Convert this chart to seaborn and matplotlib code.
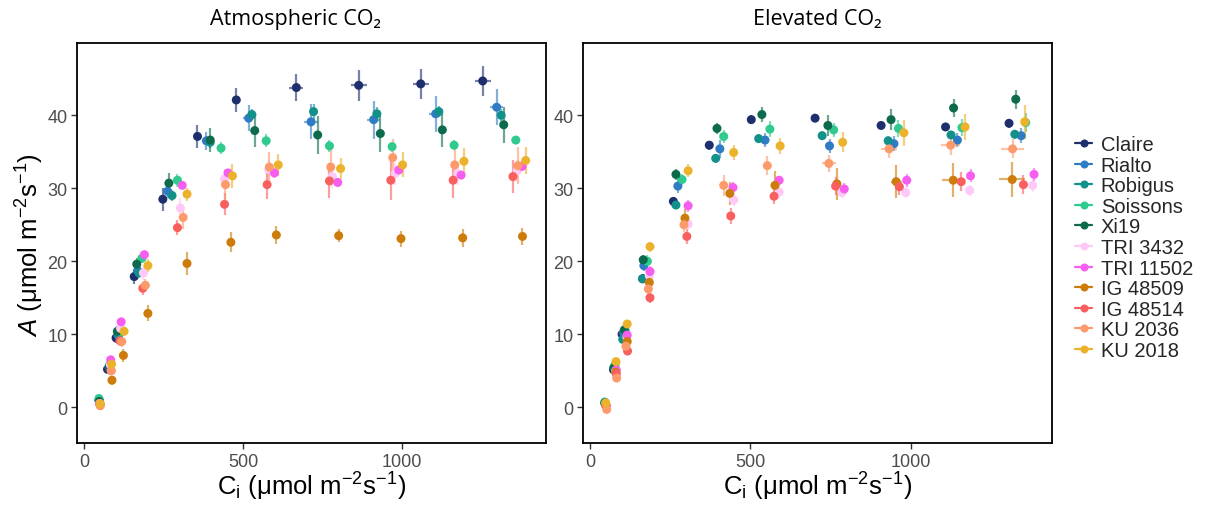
import numpy as np
import pandas as pd
import matplotlib
matplotlib.use("Agg")
import matplotlib.pyplot as plt
from matplotlib.lines import Line2D
import seaborn as sns

GENOTYPES = ["Claire", "Rialto", "Robigus", "Soissons", "Xi19", "TRI 3432",
             "TRI 11502", "IG 48509", "IG 48514", "KU 2036", "KU 2018"]
COLORS = ["#1E2F6E", "#2F7CC4", "#12918A", "#2FCB8E", "#0D6A4C", "#FFC9F7",
          "#F65EF0", "#CD7C0C", "#F8605F", "#FD9A6C", "#ECB22C"]
PANELS = ["Atmospheric CO\u2082", "Elevated CO\u2082"]

# ---------------- Atmospheric CO2 ----------------
ATM_CI = {
    "Claire":    [48, 73, 100, 157, 247, 356, 478, 667, 863, 1058, 1253],
    "Rialto":    [47, 78, 106, 168, 262, 384, 517, 713, 910, 1105, 1297],
    "Robigus":   [46, 79, 108, 172, 276, 396, 527, 721, 920, 1115, 1311],
    "Soissons":  [46, 80, 110, 181, 293, 430, 572, 771, 968, 1163, 1357],
    "Xi19":      [47, 79, 104, 165, 266, 396, 536, 734, 931, 1126, 1319],
    "TRI 3432":  [48, 82, 114, 186, 302, 441, 580, 780, 978, 1175, 1362],
    "TRI 11502": [49, 83, 116, 189, 308, 452, 598, 797, 989, 1185, 1377],
    "IG 48509":  [50, 87, 123, 200, 323, 461, 604, 800, 996, 1190, 1378],
    "IG 48514":  [49, 84, 112, 184, 293, 441, 575, 771, 964, 1160, 1348],
    "KU 2036":   [50, 85, 118, 192, 311, 444, 582, 775, 970, 1165, 1364],
    "KU 2018":   [50, 86, 125, 200, 323, 466, 610, 806, 1001, 1194, 1388],
}
ATM_A = {
    "Claire":    [0.8, 5.2, 9.5, 17.9, 28.5, 37.1, 42.1, 43.8, 44.1, 44.3, 44.7],
    "Rialto":    [0.9, 5.5, 9.9, 18.7, 29.6, 36.5, 39.6, 39.1, 39.4, 40.2, 41.1],
    "Robigus":   [1.0, 5.6, 10.0, 18.4, 29.0, 36.3, 40.1, 40.5, 40.2, 40.5, 40.0],
    "Soissons":  [1.2, 5.8, 10.3, 20.4, 31.1, 35.5, 36.5, 35.8, 35.7, 35.9, 36.6],
    "Xi19":      [0.8, 5.6, 10.4, 19.6, 30.7, 36.6, 37.9, 37.3, 37.5, 38.0, 38.7],
    "TRI 3432":  [0.5, 5.8, 10.8, 18.4, 27.3, 31.3, 32.6, 31.6, 32.0, 32.0, 32.4],
    "TRI 11502": [0.5, 6.5, 11.7, 20.9, 30.4, 32.1, 32.1, 30.8, 32.5, 31.8, 33.0],
    "IG 48509":  [0.3, 3.7, 7.1, 12.85, 19.7, 22.6, 23.6, 23.5, 23.1, 23.2, 23.4],
    "IG 48514":  [0.4, 5.0, 9.1, 16.3, 24.6, 27.8, 30.5, 31.0, 31.1, 31.1, 31.6],
    "KU 2036":   [0.2, 5.0, 9.0, 16.7, 26.0, 30.5, 32.9, 32.9, 34.2, 33.2, 33.1],
    "KU 2018":   [0.5, 5.9, 10.4, 19.4, 29.2, 31.7, 33.2, 32.7, 33.2, 33.7, 33.8],
}
ATM_A_SE = {
    "Claire":    [0.3, 0.5, 0.7, 1.0, 1.6, 1.6, 1.6, 1.8, 2.1, 2.1, 2.1],
    "Rialto":    [0.3, 0.5, 0.6, 0.8, 1.0, 1.2, 1.8, 2.4, 2.6, 2.5, 2.5],
    "Robigus":   [0.3, 0.4, 0.5, 0.6, 0.7, 0.8, 0.8, 1.0, 1.0, 0.8, 0.8],
    "Soissons":  [0.4, 0.4, 0.5, 0.6, 0.9, 0.8, 0.9, 0.8, 0.7, 0.7, 0.6],
    "Xi19":      [0.3, 0.5, 0.7, 0.8, 1.4, 1.7, 2.3, 2.6, 2.5, 2.3, 2.5],
    "TRI 3432":  [0.3, 0.5, 0.8, 1.0, 1.3, 1.3, 1.3, 1.5, 1.5, 1.5, 1.5],
    "TRI 11502": [0.3, 0.4, 0.5, 0.5, 0.5, 0.6, 0.7, 0.6, 0.6, 0.6, 0.7],
    "IG 48509":  [0.3, 0.6, 0.9, 1.1, 1.6, 1.4, 1.2, 0.9, 1.1, 1.2, 1.2],
    "IG 48514":  [0.3, 0.5, 0.7, 0.9, 1.0, 1.5, 2.0, 2.4, 2.7, 2.4, 2.3],
    "KU 2036":   [0.3, 0.5, 0.8, 0.8, 1.6, 2.0, 2.1, 2.5, 2.5, 2.5, 2.5],
    "KU 2018":   [0.3, 0.4, 0.7, 0.9, 0.9, 1.6, 1.5, 1.5, 1.7, 1.8, 1.8],
}
ATM_CI_SE = {
    "Claire":    [1, 1, 2, 3, 4, 6, 8, 22, 25, 25, 25],
    "Rialto":    [1, 1, 2, 3, 4, 10, 17, 21, 21, 21, 21],
    "Robigus":   [1, 1, 2, 2, 3, 3, 4, 4, 4, 4, 4],
    "Soissons":  [1, 1, 2, 2, 3, 3, 4, 4, 4, 4, 4],
    "Xi19":      [1, 1, 2, 2, 3, 3, 4, 4, 4, 4, 4],
    "TRI 3432":  [1, 1, 2, 2, 3, 3, 4, 4, 4, 4, 4],
    "TRI 11502": [1, 1, 2, 2, 3, 3, 4, 4, 4, 4, 4],
    "IG 48509":  [1, 1, 2, 2, 3, 3, 4, 4, 4, 4, 4],
    "IG 48514":  [1, 1, 2, 2, 3, 3, 4, 4, 4, 4, 4],
    "KU 2036":   [1, 1, 2, 2, 3, 3, 4, 4, 4, 4, 4],
    "KU 2018":   [1, 1, 2, 2, 3, 3, 4, 4, 4, 4, 4],
}

# ---------------- Elevated CO2 ----------------
ELV_CI = {
    "Claire":    [47, 73, 100, 164, 260, 372, 503, 702, 908, 1109, 1307],
    "Rialto":    [47, 76, 105, 168, 274, 405, 546, 747, 948, 1146, 1345],
    "Robigus":   [46, 74, 102, 164, 268, 392, 526, 724, 930, 1126, 1325],
    "Soissons":  [47, 78, 110, 179, 287, 417, 561, 760, 962, 1160, 1359],
    "Xi19":      [47, 75, 107, 166, 268, 396, 536, 742, 939, 1134, 1328],
    "TRI 3432":  [50, 80, 115, 185, 306, 448, 590, 786, 985, 1184, 1381],
    "TRI 11502": [50, 82, 116, 187, 306, 446, 590, 793, 988, 1187, 1385],
    "IG 48509":  [49, 80, 116, 185, 296, 436, 577, 770, 955, 1133, 1317],
    "IG 48514":  [50, 82, 117, 187, 302, 439, 574, 766, 965, 1158, 1352],
    "KU 2036":   [52, 83, 112, 182, 293, 417, 553, 745, 933, 1125, 1318],
    "KU 2018":   [49, 81, 116, 187, 306, 448, 593, 788, 979, 1170, 1356],
}
ELV_A = {
    "Claire":    [0.5, 5.15, 10.0, 17.6, 28.2, 35.9, 39.4, 39.6, 38.6, 38.4, 38.9],
    "Rialto":    [0.6, 5.3, 10.2, 19.4, 30.3, 35.4, 36.6, 35.8, 36.1, 36.6, 37.2],
    "Robigus":   [0.7, 5.4, 9.3, 17.6, 27.7, 34.1, 36.8, 37.2, 36.5, 37.3, 37.4],
    "Soissons":  [0.5, 5.8, 10.5, 20.0, 31.2, 37.1, 38.1, 38.0, 38.2, 38.3, 39.0],
    "Xi19":      [0.5, 5.4, 10.6, 20.2, 31.9, 38.2, 40.1, 38.6, 39.4, 41.0, 42.2],
    "TRI 3432":  [0.3, 5.0, 9.6, 18.0, 25.1, 28.4, 29.5, 29.4, 29.4, 29.7, 30.4],
    "TRI 11502": [0.2, 5.1, 9.9, 18.6, 27.6, 30.1, 31.1, 29.9, 31.1, 31.7, 31.9],
    "IG 48509":  [0.3, 4.8, 9.0, 17.1, 25.9, 29.3, 30.4, 30.6, 30.9, 31.1, 31.2],
    "IG 48514":  [0.2, 4.6, 7.7, 15.0, 23.4, 26.2, 28.9, 30.3, 30.2, 30.9, 30.5],
    "KU 2036":   [-0.3, 4.0, 8.35, 16.2, 25.0, 30.4, 33.1, 33.4, 35.4, 35.9, 35.4],
    "KU 2018":   [0.6, 6.25, 11.4, 22.0, 32.4, 34.9, 35.8, 36.3, 37.6, 38.4, 39.1],
}
ELV_A_SE = {
    "Claire":    [0.3, 0.4, 0.5, 0.6, 0.6, 0.6, 0.6, 0.5, 0.5, 0.6, 0.6],
    "Rialto":    [0.3, 0.4, 0.6, 0.7, 1.0, 1.2, 1.0, 1.0, 1.0, 1.0, 1.0],
    "Robigus":   [0.3, 0.4, 0.5, 0.6, 0.6, 0.6, 0.6, 0.6, 0.6, 0.6, 0.6],
    "Soissons":  [0.3, 0.4, 0.5, 0.8, 0.7, 0.9, 1.1, 1.0, 1.2, 1.2, 1.3],
    "Xi19":      [0.3, 0.4, 0.6, 0.6, 0.8, 0.8, 1.0, 1.4, 1.4, 1.2, 1.3],
    "TRI 3432":  [0.3, 0.4, 0.5, 0.8, 0.8, 0.8, 1.0, 0.8, 0.8, 0.8, 0.9],
    "TRI 11502": [0.3, 0.4, 0.5, 0.7, 0.8, 0.7, 0.6, 0.8, 0.9, 0.9, 0.9],
    "IG 48509":  [0.3, 0.5, 0.6, 0.8, 1.2, 1.6, 1.9, 2.2, 2.3, 2.35, 2.4],
    "IG 48514":  [0.3, 0.4, 0.6, 0.7, 1.0, 1.1, 1.0, 1.2, 1.1, 1.3, 1.3],
    "KU 2036":   [0.3, 0.5, 0.6, 0.7, 1.0, 1.4, 1.3, 1.2, 1.3, 1.3, 1.3],
    "KU 2018":   [0.3, 0.4, 0.6, 0.7, 0.9, 1.0, 1.1, 1.4, 1.8, 1.8, 2.3],
}
ELV_CI_SE = {
    "Claire":    [1, 1, 2, 2, 3, 3, 4, 4, 4, 4, 4],
    "Rialto":    [1, 1, 2, 2, 3, 3, 4, 4, 4, 4, 4],
    "Robigus":   [1, 1, 2, 2, 3, 3, 4, 4, 4, 4, 4],
    "Soissons":  [1, 1, 2, 2, 3, 3, 4, 4, 4, 4, 4],
    "Xi19":      [1, 1, 2, 2, 3, 3, 4, 4, 4, 4, 4],
    "TRI 3432":  [1, 1, 2, 2, 3, 3, 4, 4, 4, 4, 4],
    "TRI 11502": [1, 1, 2, 2, 3, 3, 4, 4, 4, 4, 4],
    "IG 48509":  [1, 1, 2, 2, 3, 3, 4, 5, 17, 35, 41],
    "IG 48514":  [1, 1, 2, 2, 3, 3, 4, 4, 4, 4, 4],
    "KU 2036":   [1, 1, 2, 2, 3, 4, 6, 21, 24, 29, 37],
    "KU 2018":   [1, 1, 2, 2, 3, 3, 4, 4, 4, 4, 4],
}

X_TICKS = [0, 500, 1000]
Y_TICKS = [0, 10, 20, 30, 40]

# ---------------- build tidy data ----------------
rows = []
for panel, (ci, a, cise, ase) in zip(PANELS, [(ATM_CI, ATM_A, ATM_CI_SE, ATM_A_SE),
                                              (ELV_CI, ELV_A, ELV_CI_SE, ELV_A_SE)]):
    for g in GENOTYPES:
        for x, y, xe, ye in zip(ci[g], a[g], cise[g], ase[g]):
            rows.append(dict(panel=panel, genotype=g, Ci=x, A=y, Ci_se=xe, A_se=ye))
df = pd.DataFrame(rows)
df["genotype"] = pd.Categorical(df["genotype"], categories=GENOTYPES, ordered=True)
palette = dict(zip(GENOTYPES, COLORS))

# ---------------- style ----------------
sns.set_theme(style="white")
plt.rcParams["font.family"] = ["Liberation Sans", "DejaVu Sans"]
plt.rcParams["mathtext.fontset"] = "custom"
plt.rcParams["mathtext.rm"] = "Liberation Sans"
plt.rcParams["mathtext.it"] = "Liberation Sans:italic"
plt.rcParams["mathtext.bf"] = "Liberation Sans:bold"

W, H = 1205, 506
fig = plt.figure(figsize=(W / 100, H / 100), dpi=100)
fig.patch.set_facecolor("white")

ax_boxes = [(77.3, 44, 546, 444), (583.3, 44, 1052.3, 444)]
xlims = [(-22, 1452), (-21, 1442)]
axes = []
for (x0, y0, x1, y1) in ax_boxes:
    ax = fig.add_axes([x0 / W, 1 - y1 / H, (x1 - x0) / W, (y1 - y0) / H])
    axes.append(ax)

for ax, panel, xl in zip(axes, PANELS, xlims):
    sub = df[df["panel"] == panel]
    for g in GENOTYPES:
        d = sub[sub["genotype"] == g]
        ax.errorbar(d["Ci"], d["A"], xerr=d["Ci_se"], yerr=d["A_se"], fmt="none",
                    ecolor=palette[g], elinewidth=1.6, alpha=0.6, capsize=0, zorder=2)
    sns.scatterplot(data=sub, x="Ci", y="A", hue="genotype", palette=palette,
                    hue_order=GENOTYPES, s=42, linewidth=0, alpha=1.0,
                    legend=False, ax=ax, zorder=3)
    ax.set_xlim(*xl)
    ax.set_ylim(-4.9, 49.9)
    ax.set_xticks(X_TICKS)
    ax.set_yticks(Y_TICKS)
    ax.set_xlabel("")
    ax.set_ylabel("")
    ax.tick_params(axis="both", which="major", direction="out", length=4, width=1,
                   color="#333333", labelcolor="#4D4D4D", labelsize=13, pad=3,
                   bottom=True, left=True)
    for sp in ax.spines.values():
        sp.set_visible(True)
        sp.set_color("black")
        sp.set_linewidth(1.3)
    ax.grid(False)

# Titles
for cx, title in zip([296, 817.8], PANELS):
    fig.text(cx / W, 1 - 20 / H, title, ha="center", va="center", fontsize=15.5,
             family=["Open Sans", "DejaVu Sans"], color="black")

# Axis labels
xlabel = r"C$_\mathrm{i}$ (μmol m$^{-2}$s$^{-1}$)"
for cx in [311.7, 817.8]:
    fig.text(cx / W, 1 - 487 / H, xlabel, ha="center", va="center", fontsize=18.5, color="black")
fig.text(30 / W, 1 - 245 / H, r"$A$ (μmol m$^{-2}$s$^{-1}$)", ha="center", va="center",
         rotation=90, fontsize=18.5, color="black")

# Legend
handles = [Line2D([0], [0], color=palette[g], lw=1.6, marker="o", markersize=5.8,
                  markeredgewidth=0) for g in GENOTYPES]
fig.legend(handles, GENOTYPES, loc="center left", bbox_to_anchor=(1075 / W, 1 - 248.5 / H),
           frameon=False, fontsize=14.5, handlelength=0.85, handletextpad=0.43,
           labelspacing=0.08, borderaxespad=0, borderpad=0)

fig.savefig("out.png", dpi=100, facecolor="white")
